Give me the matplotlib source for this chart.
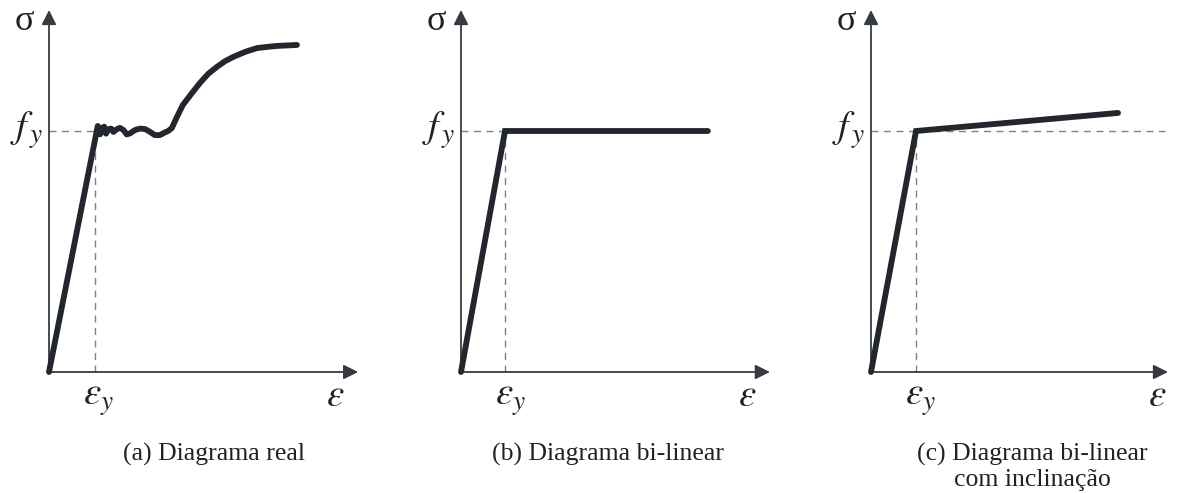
import matplotlib.pyplot as plt

plt.rcParams['font.family'] = ['Liberation Serif', 'DejaVu Serif']
plt.rcParams['mathtext.fontset'] = 'stix'

# strain / stress in units of eps_y and f_y
real_eps = [0.0, 1.06, 1.11, 1.16, 1.20, 1.24, 1.29, 1.35, 1.40, 1.47, 1.54, 1.62,
            1.69, 1.76, 1.87, 1.98, 2.09, 2.20, 2.30, 2.41, 2.52, 2.59, 2.67, 2.78,
            2.91, 3.11, 3.28, 3.46, 3.65, 3.83, 4.00, 4.26, 4.52, 4.74, 4.96, 5.39]
real_sig = [0.0, 1.021, 0.986, 1.013, 1.018, 0.989, 1.007, 1.010, 0.996, 1.007, 1.013, 1.004,
            0.986, 0.990, 1.004, 1.010, 1.008, 0.996, 0.983, 0.983, 0.994, 1.000, 1.012, 1.058,
            1.108, 1.158, 1.199, 1.237, 1.266, 1.290, 1.307, 1.328, 1.344, 1.349, 1.353, 1.357]

bilin_eps = [0.0, 1.0, 5.61]
bilin_sig = [0.0, 1.0, 1.0]

hard_eps = [0.0, 1.0, 5.49]
hard_sig = [0.0, 1.0, 1.075]

captions = ['(a) Diagrama real', '(b) Diagrama bi-linear',
            '(c) Diagrama bi-linear\ncom inclinação']

W, H = 1179, 493
BASE_Y = 372      # pixel row of the strain axis
SY = 241          # pixels per f_y

LINE = '#22272e'
AXC = '#363b42'
DASH = '#808080'
TXT = '#222222'

fig = plt.figure(figsize=(W / 100, H / 100), dpi=100)

panels = [
    # origin x px, px per eps_y, axis tip (eps), dashed fy to, curve, joinstyle
    (49, 46, 6.72, 1.0, real_eps, real_sig, 'round'),
    (461, 44, 7.02, 1.0, bilin_eps, bilin_sig, 'miter'),
    (871, 45, 6.60, 6.53, hard_eps, hard_sig, 'miter'),
]

for ox, sx, xtip, fy_end, eps, sig, js in panels:
    ax = fig.add_axes([0, 0, 1, 1])
    ax.set_xlim(-ox / sx, (W - ox) / sx)
    ax.set_ylim((BASE_Y - H) / SY, BASE_Y / SY)
    ax.set_axis_off()
    ax.patch.set_visible(False)

    ytip = (BASE_Y - 10) / SY
    arrow = dict(arrowstyle='-|>', mutation_scale=22, lw=1.3, color=AXC,
                 shrinkA=0, shrinkB=0)
    ax.annotate('', xy=(xtip, 0), xytext=(0, 0), arrowprops=arrow)
    ax.annotate('', xy=(0, ytip), xytext=(0, 0), arrowprops=arrow)

    # yield guides
    ax.plot([0, fy_end], [1, 1], color=DASH, lw=1.0, ls=(0, (5, 4)))
    ax.plot([1, 1], [0, 1], color=DASH, lw=1.0, ls=(0, (5, 4)))

    ax.plot(eps, sig, color=LINE, lw=4.2, solid_capstyle='round',
            solid_joinstyle=js, zorder=5)

    def px(dx, py):
        return dx / sx, (BASE_Y - py) / SY

    ax.text(*px(-25, 22), 'σ', fontsize=26, ha='center', va='center', color=TXT)
    ax.text(*px(-6, 130), r'$f_{\,y}$', fontsize=28, ha='right', va='center', color=TXT)
    ax.text(*px(49, 399), r'$\varepsilon_y$', fontsize=28, ha='center', va='center', color=TXT)
    ax.text(*px(286, 396), r'$\varepsilon$', fontsize=28, ha='center', va='center', color=TXT)

cap_x = [214, 608, 1032]
for cx, cap in zip(cap_x, captions):
    fig.text(cx / W, 1 - 443 / H, cap, fontsize=18.5, ha='center', va='top',
             color=TXT, linespacing=1.2)

fig.savefig('out.png', dpi=100)
